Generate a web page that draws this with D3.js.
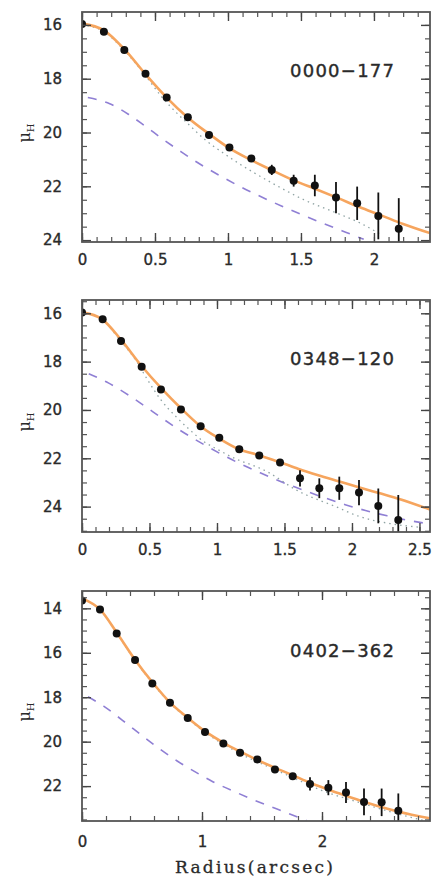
<!DOCTYPE html>
<html>
<head>
<meta charset="utf-8">
<script src="https://cdn.jsdelivr.net/npm/d3@7"></script>
<style>
  body { margin: 0; background: #fff; }
  .tick-label { font-family: "DejaVu Sans", sans-serif; font-size: 15px; fill: #2a2a2a; stroke: #2a2a2a; stroke-width: 0.35px; }
  .name-label { font-family: "DejaVu Sans", sans-serif; font-size: 18px; fill: #2a2a2a; stroke: #2a2a2a; stroke-width: 0.4px; }
  .axis-title { font-family: "DejaVu Serif", serif; font-size: 17px; fill: #2a2a2a; stroke: #2a2a2a; stroke-width: 0.3px; }
</style>
</head>
<body>
<div id="chart"></div>
<script>
// ---- data ----
const galaxyNames = ["0000\u2212177", "0348\u2212120", "0402\u2212362"];

// 0000-177
const radius1 = [0, 0.15, 0.29, 0.435, 0.58, 0.725, 0.87, 1.01, 1.16, 1.3, 1.45, 1.595, 1.74, 1.885, 2.03, 2.17];
const mu1 = [15.97, 16.25, 16.93, 17.82, 18.7, 19.43, 20.09, 20.56, 20.97, 21.39, 21.79, 21.97, 22.42, 22.63, 23.1, 23.58];
const err1 = [0, 0, 0, 0, 0, 0, 0, 0, 0, 0.19, 0.22, 0.4, 0.58, 0.62, 0.87, 1.14];
const fitR1 = [0, 0.15, 0.29, 0.43, 0.58, 0.72, 0.87, 1.0, 1.15, 1.3, 1.45, 1.6, 1.75, 1.9, 2.05, 2.2, 2.384];
const fitMu1 = [15.95, 16.2, 16.9, 17.8, 18.7, 19.42, 20.05, 20.55, 21.0, 21.4, 21.78, 22.1, 22.43, 22.77, 23.08, 23.4, 23.74];
const bulgeR1 = [0, 0.15, 0.29, 0.43, 0.55, 0.65, 0.74, 0.85, 0.97, 1.08, 1.18, 1.36, 1.52, 1.72, 1.9, 2.05];
const bulgeMu1 = [16.0, 16.25, 16.95, 17.85, 18.7, 19.28, 19.75, 20.3, 20.77, 21.17, 21.5, 22.05, 22.5, 22.94, 23.35, 23.8];
const diskR1 = [0.04, 0.19, 0.32, 0.43, 0.56, 0.68, 0.81, 0.95, 1.08, 1.2, 1.37, 1.5, 1.63, 1.78, 1.93];
const diskMu1 = [18.7, 18.93, 19.33, 19.75, 20.27, 20.72, 21.18, 21.62, 22.0, 22.32, 22.74, 23.04, 23.33, 23.65, 23.97];

// 0348-120
const radius2 = [0, 0.153, 0.289, 0.442, 0.585, 0.733, 0.879, 1.017, 1.165, 1.313, 1.467, 1.615, 1.758, 1.906, 2.052, 2.195, 2.343];
const mu2 = [15.97, 16.25, 17.15, 18.21, 19.15, 19.98, 20.67, 21.15, 21.63, 21.88, 22.17, 22.83, 23.24, 23.24, 23.42, 23.97, 24.55];
const err2 = [0, 0, 0, 0, 0, 0, 0, 0, 0, 0, 0.1, 0.34, 0.41, 0.48, 0.52, 0.72, 1.03];
const fitR2 = [0, 0.15, 0.29, 0.44, 0.59, 0.74, 0.87, 1.01, 1.16, 1.31, 1.46, 1.6, 1.75, 1.9, 2.05, 2.2, 2.35, 2.578];
const fitMu2 = [15.95, 16.25, 17.1, 18.17, 19.12, 19.97, 20.64, 21.16, 21.62, 21.87, 22.15, 22.43, 22.7, 22.95, 23.2, 23.44, 23.68, 24.12];
const bulgeR2 = [0, 0.15, 0.29, 0.4, 0.48, 0.58, 0.7, 0.8, 0.9, 1.0, 1.1, 1.37, 1.6, 1.88, 2.05, 2.28, 2.5];
const bulgeMu2 = [15.97, 16.27, 17.17, 17.95, 18.7, 19.55, 20.3, 20.83, 21.3, 21.62, 21.92, 22.55, 23.35, 24.0, 24.4, 24.7, 24.85];
const diskR2 = [0.05, 0.195, 0.343, 0.467, 0.59, 0.726, 0.862, 1.022, 1.17, 1.32, 1.48, 1.64, 1.79, 1.95, 2.1, 2.26, 2.41, 2.578];
const diskMu2 = [18.5, 18.88, 19.38, 19.85, 20.33, 20.84, 21.3, 21.8, 22.22, 22.6, 22.98, 23.32, 23.62, 23.92, 24.16, 24.38, 24.56, 24.72];

// 0402-362
const radius3 = [0, 0.15, 0.289, 0.442, 0.586, 0.733, 0.881, 1.025, 1.178, 1.317, 1.461, 1.608, 1.756, 1.9, 2.053, 2.2, 2.35, 2.497, 2.636];
const mu3 = [13.65, 14.05, 15.13, 16.33, 17.38, 18.25, 18.93, 19.56, 20.08, 20.5, 20.8, 21.25, 21.56, 21.9, 22.07, 22.29, 22.71, 22.73, 23.11];
const err3 = [0, 0, 0, 0, 0, 0, 0, 0, 0, 0, 0, 0.08, 0.15, 0.3, 0.34, 0.47, 0.6, 0.62, 0.78];
const fitR3 = [0, 0.15, 0.29, 0.44, 0.59, 0.73, 0.88, 1.03, 1.18, 1.32, 1.46, 1.61, 1.76, 1.9, 2.05, 2.2, 2.35, 2.5, 2.64, 2.9];
const fitMu3 = [13.55, 14.05, 15.1, 16.3, 17.35, 18.22, 18.92, 19.55, 20.05, 20.45, 20.82, 21.18, 21.52, 21.85, 22.15, 22.43, 22.7, 22.95, 23.15, 23.45];
const bulgeR3 = [0, 0.15, 0.29, 0.44, 0.59, 0.73, 0.88, 1.03, 1.18, 1.32, 1.5, 1.75, 2.0, 2.3, 2.6, 2.85];
const bulgeMu3 = [13.57, 14.07, 15.12, 16.33, 17.38, 18.25, 18.96, 19.6, 20.12, 20.55, 21.0, 21.6, 22.2, 22.72, 23.2, 23.55];
const diskR3 = [0.05, 0.18, 0.34, 0.5, 0.64, 0.79, 0.94, 1.09, 1.28, 1.44, 1.62, 1.8, 1.87];
const diskMu3 = [17.98, 18.4, 19.05, 19.72, 20.3, 20.86, 21.35, 21.8, 22.27, 22.64, 23.02, 23.4, 23.55];

// axis ranges and tick labels
const xDomains = [[0, 2.384], [0, 2.578], [0, 2.9]];
const yDomains = [[15.52, 24.07], [15.45, 25.05], [13.22, 23.57]];
const xMajorTicks = [[0, 0.5, 1, 1.5, 2], [0, 0.5, 1, 1.5, 2, 2.5], [0, 1, 2]];
const xMinorStep = [0.1, 0.1, 0.2];
const yMajorTicks = [[16, 18, 20, 22, 24], [16, 18, 20, 22, 24], [14, 16, 18, 20, 22]];
const yMinorStep = [0.5, 0.5, 0.5];

// ---- layout ----
const width = 445, height = 879;
const plotLeft = 82, plotRight = 430;
const plotBoxes = [{ top: 12, bottom: 242 }, { top: 300, bottom: 532 }, { top: 591, bottom: 821 }];
const xLabelPad = [12, 12, 15];

const svg = d3.select("#chart").append("svg")
    .attr("width", width)
    .attr("height", height);

// figure is cut just right of the frame
svg.append("clipPath").attr("id", "figClip")
    .append("rect").attr("x", 0).attr("y", 0).attr("width", 432).attr("height", height);

const root = svg.append("g").attr("clip-path", "url(#figClip)");

function pairs(xs, ys) {
    return xs.map((r, i) => ({ r: r, mu: ys[i] }));
}

const panels = [
    { pts: pairs(radius1, mu1), err: err1, fit: pairs(fitR1, fitMu1), bulge: pairs(bulgeR1, bulgeMu1), disk: pairs(diskR1, diskMu1) },
    { pts: pairs(radius2, mu2), err: err2, fit: pairs(fitR2, fitMu2), bulge: pairs(bulgeR2, bulgeMu2), disk: pairs(diskR2, diskMu2) },
    { pts: pairs(radius3, mu3), err: err3, fit: pairs(fitR3, fitMu3), bulge: pairs(bulgeR3, bulgeMu3), disk: pairs(diskR3, diskMu3) }
];

function minorTicks(domain, step) {
    const out = [];
    const start = Math.ceil(domain[0] / step - 1e-9);
    for (let k = start; k * step <= domain[1] + 1e-9; k++) out.push(+(k * step).toFixed(4));
    return out;
}

panels.forEach((p, i) => {
    const box = plotBoxes[i];
    const x = d3.scaleLinear().domain(xDomains[i]).range([plotLeft, plotRight]);
    const y = d3.scaleLinear().domain(yDomains[i]).range([box.top, box.bottom]);

    const g = root.append("g");

    const clipId = "plotClip" + i;
    g.append("clipPath").attr("id", clipId)
        .append("rect")
        .attr("x", plotLeft).attr("y", box.top)
        .attr("width", plotRight - plotLeft).attr("height", box.bottom - box.top);

    const inner = g.append("g").attr("clip-path", `url(#${clipId})`);

    const line = d3.line()
        .x(d => x(d.r))
        .y(d => y(d.mu))
        .curve(d3.curveMonotoneX);

    // disk component (dashed)
    inner.append("path")
        .datum(p.disk)
        .attr("d", line)
        .attr("fill", "none")
        .attr("stroke", "#8f7fd4")
        .attr("stroke-width", 1.6)
        .attr("stroke-dasharray", "9,9");

    // bulge component (dotted)
    inner.append("path")
        .datum(p.bulge)
        .attr("d", line)
        .attr("fill", "none")
        .attr("stroke", "#8fa3a3")
        .attr("stroke-width", 1.3)
        .attr("stroke-dasharray", "1.5,4");

    // total fit
    inner.append("path")
        .datum(p.fit)
        .attr("d", line)
        .attr("fill", "none")
        .attr("stroke", "#f6a55e")
        .attr("stroke-width", 2.6);

    // error bars
    inner.selectAll(".err")
        .data(p.pts.map((d, k) => ({ r: d.r, mu: d.mu, e: p.err[k] })).filter(d => d.e > 0))
        .enter()
        .append("line")
        .attr("x1", d => x(d.r)).attr("x2", d => x(d.r))
        .attr("y1", d => y(d.mu - d.e)).attr("y2", d => y(d.mu + d.e))
        .attr("stroke", "#111")
        .attr("stroke-width", 1.8);

    // data points
    inner.selectAll(".pt")
        .data(p.pts)
        .enter()
        .append("circle")
        .attr("cx", d => x(d.r))
        .attr("cy", d => y(d.mu))
        .attr("r", 4)
        .attr("fill", "#111");

    // axes: inward ticks on all four sides
    const fmt = d => String(d);
    const xMinor = minorTicks(xDomains[i], xMinorStep[i]);
    const yMinor = minorTicks(yDomains[i], yMinorStep[i]);

    const axes = [
        { ax: d3.axisBottom(x), t: `translate(0,${box.bottom})`, vals: xMajorTicks[i], minor: xMinor, label: true, pad: xLabelPad[i] },
        { ax: d3.axisTop(x), t: `translate(0,${box.top})`, vals: xMajorTicks[i], minor: xMinor, label: false, pad: 0 },
        { ax: d3.axisLeft(y), t: `translate(${plotLeft},0)`, vals: yMajorTicks[i], minor: yMinor, label: true, pad: 20 },
        { ax: d3.axisRight(y), t: `translate(${plotRight},0)`, vals: yMajorTicks[i], minor: yMinor, label: false, pad: 0 }
    ];

    axes.forEach(a => {
        const minorG = g.append("g").attr("transform", a.t)
            .call(a.ax.tickValues(a.minor).tickSize(-5).tickSizeOuter(0).tickFormat(""));
        minorG.select(".domain").remove();
        minorG.selectAll("line").attr("stroke", "#555").attr("stroke-width", 1.2);

        const majorG = g.append("g").attr("transform", a.t)
            .call(a.ax.tickValues(a.vals).tickSize(-9).tickSizeOuter(0)
                .tickPadding(a.pad).tickFormat(a.label ? fmt : ""));
        majorG.select(".domain").remove();
        majorG.selectAll("line").attr("stroke", "#444").attr("stroke-width", 1.4);
        majorG.selectAll("text")
            .attr("class", "tick-label")
            .attr("font-family", null).attr("font-size", null).attr("fill", null);
    });

    // frame
    g.append("rect")
        .attr("x", plotLeft).attr("y", box.top)
        .attr("width", plotRight - plotLeft).attr("height", box.bottom - box.top)
        .attr("fill", "none")
        .attr("stroke", "#555")
        .attr("stroke-width", 1.8);

    // galaxy name
    g.append("text")
        .attr("class", "name-label")
        .attr("x", 290)
        .attr("y", y(yMajorTicks[i][0]) + (i === 2 ? 42 : 45) + 7)
        .attr("textLength", 104)
        .attr("lengthAdjust", "spacing")
        .text(galaxyNames[i]);

    // y axis title: mu_H
    const midY = (box.top + box.bottom) / 2 + 6;
    const yt = g.append("text")
        .attr("transform", `translate(30,${midY}) rotate(-90)`)
        .attr("text-anchor", "middle")
        .attr("font-family", "DejaVu Serif, serif")
        .attr("font-size", 16)
        .attr("fill", "#2a2a2a");
    yt.append("tspan").text("\u03bc");
    yt.append("tspan").attr("font-size", 10).attr("dy", 4).text("H");
});

// x axis title under the bottom panel
root.append("text")
    .attr("class", "axis-title")
    .attr("x", 254)
    .attr("y", 873)
    .attr("text-anchor", "middle")
    .attr("textLength", 158)
    .attr("lengthAdjust", "spacing")
    .text("Radius(arcsec)");
</script>
</body>
</html>
